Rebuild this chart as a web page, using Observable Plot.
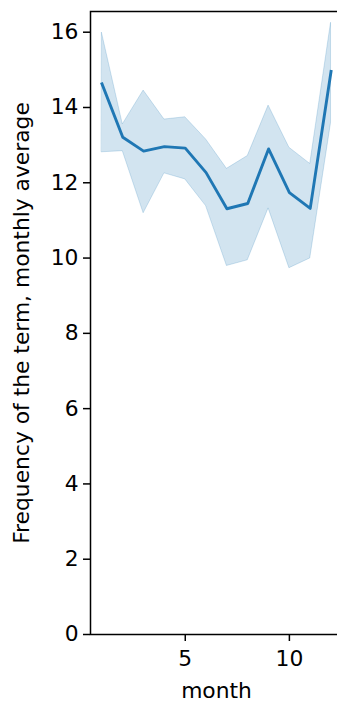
<!DOCTYPE html>
<html>
<head>
<meta charset="utf-8">
<script src="https://cdn.jsdelivr.net/npm/d3@7"></script>
<script src="https://cdn.jsdelivr.net/npm/@observablehq/plot@0.6"></script>
<style>
  html, body { margin: 0; padding: 0; background: #fff; }
  svg { display: block; }
</style>
</head>
<body>
<div id="chart"></div>
<script>
const months = [1, 2, 3, 4, 5, 6, 7, 8, 9, 10, 11, 12];
const meanValues = [14.63, 13.21, 12.84, 12.96, 12.92, 12.27, 11.31, 11.45, 12.90, 11.74, 11.32, 14.96];
const upperValues = [15.98, 13.55, 14.45, 13.68, 13.74, 13.15, 12.37, 12.71, 14.05, 12.93, 12.50, 16.25];
const lowerValues = [12.81, 12.84, 11.19, 12.25, 12.09, 11.38, 9.79, 9.94, 11.32, 9.73, 9.99, 13.59];
const yTicks = [0, 2, 4, 6, 8, 10, 12, 14, 16];
const xTicks = [5, 10];
const xLabel = "month";
const yLabel = "Frequency of the term, monthly average";

const rows = months.map((m, i) => ({month: m, mean: meanValues[i], lo: lowerValues[i], hi: upperValues[i]}));

const fontSize = 21.8;
const chart = Plot.plot({
  width: 337,
  height: 702,
  marginLeft: 90,
  marginTop: 11,
  marginBottom: 68,
  marginRight: -5,
  style: {fontFamily: "DejaVu Sans", fontSize: fontSize + "px", color: "#000", background: "#fff", overflow: "hidden"},
  x: {domain: [0.45, 12.55]},
  y: {domain: [0, 16.55]},
  marks: [
    Plot.areaY(rows, {x: "month", y1: "lo", y2: "hi", fill: "#1f77b4", fillOpacity: 0.2, stroke: "#1f77b4", strokeOpacity: 0.2, strokeWidth: 1}),
    Plot.lineY(rows, {x: "month", y: "mean", stroke: "#1f77b4", strokeWidth: 2.9, strokeLinejoin: "round", strokeLinecap: "square"}),
    Plot.axisY({ticks: yTicks, tickSize: 7, tickPadding: 5, strokeWidth: 1.5, label: null, fontSize: fontSize, tickFormat: d => String(d)}),
    Plot.axisX({ticks: xTicks, tickSize: 7, tickPadding: 9, strokeWidth: 1.5, label: null, fontSize: fontSize, tickFormat: d => String(d)}),
    Plot.frame({stroke: "#000", strokeWidth: 1.5}),
    Plot.text([yLabel], {frameAnchor: "left", rotate: -90, dx: -68, fontSize: fontSize, textAnchor: "middle", lineAnchor: "middle"}),
    Plot.text([xLabel], {frameAnchor: "bottom", dy: 57, fontSize: fontSize, textAnchor: "middle", lineAnchor: "middle"})
  ]
});
document.getElementById("chart").appendChild(chart);
</script>
</body>
</html>
